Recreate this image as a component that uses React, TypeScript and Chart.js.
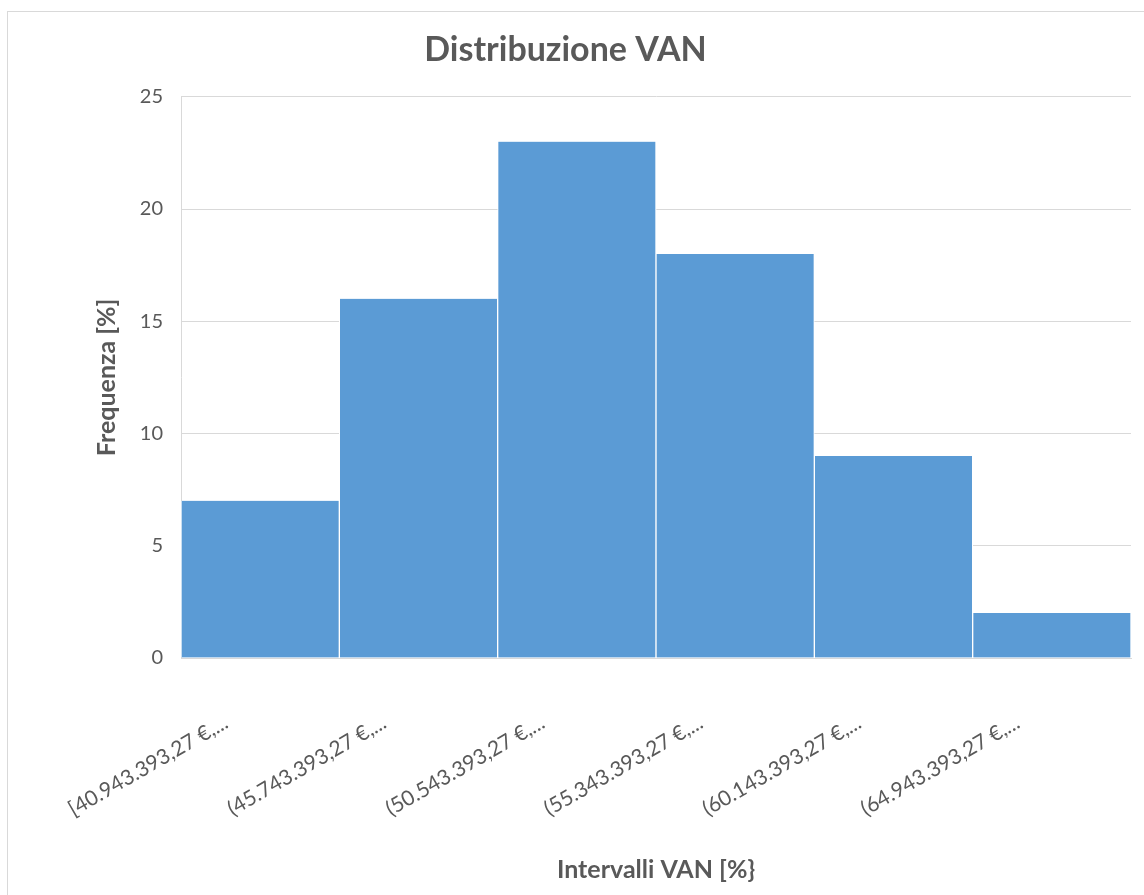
import React, { useEffect, useRef } from "react";
import { Chart, registerables } from "chart.js";

Chart.register(...registerables);

const categories: string[] = [
  "[40.943.393,27 €,...",
  "(45.743.393,27 €,...",
  "(50.543.393,27 €,...",
  "(55.343.393,27 €,...",
  "(60.143.393,27 €,...",
  "(64.943.393,27 €,...",
];
const frequencies: number[] = [7, 16, 23, 18, 9, 2];
const chartTitle = "Distribuzione VAN";
const xTitle = "Intervalli VAN [%}";
const yTitle = "Frequenza [%]";

const FONT = "Lato, 'Open Sans', sans-serif";
const TEXT = "#595959";
const GRID = "#d9d9d9";

export default function App() {
  const ref = useRef<HTMLCanvasElement | null>(null);
  useEffect(() => {
    if (!ref.current) return;
    const chart = new Chart(ref.current, {
      type: "bar",
      data: {
        labels: categories,
        datasets: [
          {
            data: frequencies,
            backgroundColor: "#5b9bd5",
            borderColor: "#ffffff",
            borderWidth: { left: 1, right: 1, top: 0, bottom: 0 },
            borderSkipped: false,
            categoryPercentage: 1,
            barPercentage: 1,
          },
        ],
      },
      options: {
        responsive: false,
        animation: false,
        layout: { padding: { left: 0, right: 13, top: 0, bottom: 0 } },
        plugins: {
          legend: { display: false },
          tooltip: { enabled: false },
          title: {
            display: true,
            text: chartTitle,
            color: TEXT,
            font: { family: FONT, size: 34, weight: "bold" },
            padding: { top: 30, bottom: 26 },
          },
        },
        scales: {
          x: {
            grid: { display: false, drawTicks: false },
            border: { display: true, color: GRID, width: 1 },
            ticks: {
              color: TEXT,
              font: { family: FONT, size: 21 },
              minRotation: 30,
              maxRotation: 30,
              autoSkip: false,
              padding: 52,
              labelOffset: -34,
            },
            title: {
              display: true,
              text: xTitle,
              color: TEXT,
              font: { family: FONT, size: 25, weight: "bold" },
              padding: { top: 0, bottom: 10 },
            },
            afterFit: (scale: any) => {
              scale.height = 237;
            },
          },
          y: {
            min: 0,
            max: 25,
            ticks: {
              stepSize: 5,
              color: TEXT,
              font: { family: FONT, size: 20 },
              padding: 18,
            },
            grid: { color: GRID, lineWidth: 1, drawTicks: false },
            border: { display: true, color: GRID, width: 1 },
            title: {
              display: true,
              text: yTitle,
              color: TEXT,
              font: { family: FONT, size: 25, weight: "bold" },
              padding: { top: 92, bottom: 0 },
            },
            afterFit: (scale: any) => {
              scale.width = 181;
            },
          },
        },
      },
    });
    return () => chart.destroy();
  }, []);

  return (
    <div style={{ position: "fixed", left: 0, top: 0, width: 1144, height: 895, overflow: "hidden", background: "#fff" }}>
      <div
        style={{
          position: "absolute",
          left: 7,
          top: 11,
          width: 1300,
          height: 1100,
          border: "1px solid #d9d9d9",
          boxSizing: "border-box",
        }}
      />
      <canvas ref={ref} width={1144} height={895} style={{ position: "absolute", left: 0, top: 0 }} />
    </div>
  );
}
